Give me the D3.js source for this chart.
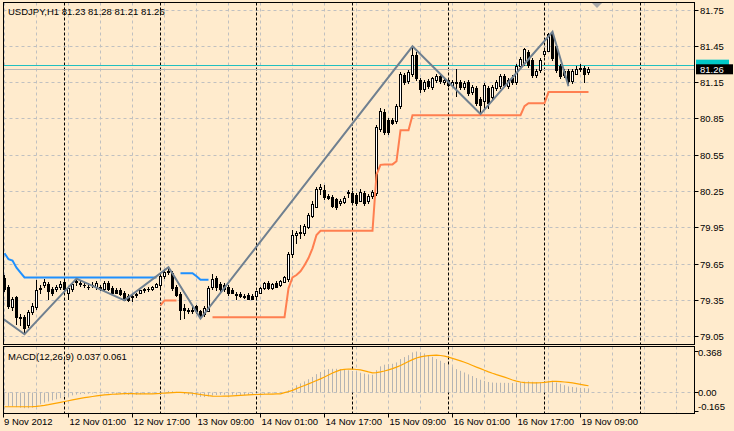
<!DOCTYPE html>
<html><head><meta charset="utf-8">
<script src="https://cdn.jsdelivr.net/npm/d3@7"></script>
<style>
html,body{margin:0;padding:0;background:#ffebcd;}
svg{display:block;}
text{font-family:"Liberation Sans",Arial,sans-serif;font-size:9.5px;fill:#000;}
</style>
</head><body>
<svg id="c" width="734" height="431"></svg>
<script>
// ---------- DATA (hourly bars, 9 Nov 2012 09:00 .. 19 Nov 2012 11:00) ----------
const open = [79.53,79.46,79.29,79.37,79.21,79.21,79.14,79.25,79.29,79.44,79.47,79.48,79.44,79.44,79.46,79.50,79.41,79.44,79.50,79.49,
79.47,79.46,79.47,79.46,79.46,79.44,79.49,79.45,79.43,79.43,79.41,79.38,79.37,79.39,79.41,79.43,79.44,79.44,79.46,79.47,
79.55,79.58,79.57,79.46,79.40,79.28,79.27,79.26,79.30,79.26,79.23,79.26,79.46,79.53,79.48,79.47,79.46,79.43,79.40,79.40,
79.37,79.39,79.38,79.38,79.41,79.45,79.49,79.45,79.49,79.47,79.50,79.52,79.73,79.89,79.90,79.90,79.95,80.04,80.12,80.27,
80.26,80.21,80.20,80.18,80.15,80.16,80.23,80.23,80.22,80.17,80.23,80.17,80.21,80.23,80.76,80.90,80.84,80.84,80.83,80.95,
81.21,81.16,81.22,81.37,81.17,81.09,81.16,81.11,81.17,81.20,81.15,81.17,81.13,81.14,81.15,81.11,81.15,81.07,81.10,81.01,
80.99,81.10,81.03,81.10,81.12,81.20,81.12,81.18,81.15,81.28,81.31,81.40,81.33,81.21,81.25,81.38,81.41,81.55,81.45,81.28,
81.24,81.24,81.16,81.22,81.27,81.27,81.23];
const high = [79.56,79.48,79.38,79.39,79.24,79.23,79.27,79.33,79.52,79.48,79.53,79.50,79.46,79.48,79.51,79.52,79.47,79.50,79.53,79.51,
79.50,79.49,79.50,79.51,79.48,79.51,79.51,79.47,79.45,79.45,79.43,79.40,79.40,79.41,79.44,79.45,79.46,79.47,79.49,79.56,
79.61,79.625,79.59,79.48,79.42,79.32,79.29,79.30,79.31,79.27,79.30,79.47,79.57,79.55,79.50,79.49,79.48,79.45,79.42,79.42,
79.40,79.41,79.40,79.43,79.46,79.50,79.51,79.49,79.51,79.52,79.55,79.75,79.93,79.92,79.97,79.98,80.07,80.17,80.29,80.31,
80.30,80.23,80.22,80.20,80.19,80.21,80.26,80.25,80.24,80.27,80.25,80.23,80.26,80.80,80.94,80.93,80.86,80.86,80.97,81.24,
81.23,81.25,81.45,81.40,81.19,81.17,81.18,81.20,81.22,81.22,81.19,81.19,81.17,81.26,81.17,81.16,81.17,81.13,81.12,81.03,
81.15,81.12,81.13,81.17,81.22,81.22,81.19,81.21,81.30,81.36,81.44,81.42,81.35,81.26,81.35,81.43,81.56,81.575,81.47,81.30,
81.26,81.26,81.26,81.29,81.30,81.29,81.28];
const low = [79.42,79.28,79.26,79.15,79.14,79.07,79.12,79.23,79.27,79.40,79.45,79.35,79.39,79.42,79.44,79.42,79.35,79.42,79.47,79.46,
79.45,79.44,79.45,79.44,79.43,79.42,79.43,79.40,79.40,79.39,79.35,79.34,79.34,79.37,79.40,79.41,79.42,79.43,79.45,79.45,
79.53,79.56,79.43,79.38,79.19,79.20,79.24,79.24,79.24,79.20,79.21,79.25,79.44,79.43,79.42,79.42,79.39,79.40,79.35,79.37,
79.36,79.35,79.35,79.37,79.40,79.44,79.44,79.44,79.45,79.46,79.49,79.50,79.70,79.82,79.86,79.88,79.94,80.03,80.11,80.22,
80.18,80.18,80.11,80.10,80.13,80.15,80.20,80.14,80.13,80.16,80.13,80.15,80.19,80.21,80.74,80.72,80.72,80.80,80.81,80.93,
81.13,81.14,81.20,81.16,81.06,81.07,81.10,81.09,81.15,81.14,81.13,81.11,81.11,81.03,81.09,81.09,81.04,81.05,80.96,80.89,
80.92,80.93,81.01,81.08,81.10,81.11,81.10,81.13,81.13,81.26,81.29,81.27,81.19,81.19,81.23,81.36,81.40,81.33,81.23,81.18,
81.19,81.12,81.14,81.21,81.24,81.15,81.21];
const close = [79.44,79.30,79.36,79.21,79.20,79.12,79.25,79.30,79.43,79.45,79.50,79.42,79.41,79.46,79.48,79.44,79.45,79.48,79.51,79.48,
79.47,79.46,79.47,79.49,79.44,79.49,79.44,79.41,79.41,79.40,79.35,79.35,79.38,79.40,79.43,79.44,79.44,79.46,79.48,79.55,
79.58,79.59,79.45,79.39,79.27,79.27,79.26,79.27,79.26,79.22,79.28,79.45,79.52,79.46,79.44,79.44,79.41,79.41,79.39,79.38,
79.38,79.36,79.36,79.42,79.45,79.49,79.45,79.48,79.46,79.51,79.54,79.73,79.89,79.90,79.91,79.96,80.05,80.14,80.27,80.28,
80.20,80.19,80.13,80.12,80.17,80.19,80.24,80.16,80.15,80.24,80.15,80.21,80.24,80.78,80.91,80.74,80.74,80.81,80.95,81.22,
81.15,81.23,81.37,81.18,81.09,81.15,81.12,81.18,81.20,81.16,81.17,81.13,81.15,81.15,81.11,81.14,81.06,81.11,80.98,80.96,
81.13,80.98,81.11,81.15,81.20,81.13,81.17,81.15,81.28,81.34,81.42,81.29,81.21,81.24,81.33,81.41,81.55,81.35,81.25,81.20,
81.21,81.16,81.24,81.26,81.26,81.22,81.26];

// blue resistance line (null = not drawn)
const blueLine = [79.74,79.69,79.68,79.62,79.58,79.54,79.54,79.54,79.54,79.54,79.54,79.54,79.54,79.54,79.54,79.54,79.54,79.54,79.54,79.54,
79.54,79.54,79.54,79.54,79.54,79.54,79.54,79.54,79.54,79.54,79.54,79.54,79.54,79.54,79.54,79.54,79.54,79.54,79.54,null,
null,null,null,null,79.575,79.575,79.575,79.575,79.55,79.52,79.52,79.52,null,null,null,null,null,null,null,null,
null,null,null,null,null,null,null,null,null,null,null,null,null,null,null,null,null,null,null,null,
null,null,null,null,null,null,null,null,null,null,null,null,null,null,null,null,null,null,null,null,
null,null,null,null,null,null,null,null,null,null,null,null,null,null,null,null,null,null,null,null,
null,null,null,null,null,null,null,null,null,null,null,null,null,null,null,null,null,null,null,null,
null,null,null,null,null,null,null];
// coral support / trailing line
const coralLine = [null,null,null,null,null,null,null,null,null,null,null,null,null,null,null,null,null,null,null,null,
null,null,null,null,null,null,null,null,null,null,null,null,null,null,null,null,null,null,null,79.31,
79.35,79.35,79.35,79.35,null,null,null,null,null,null,null,null,79.21,79.21,79.21,79.21,79.21,79.21,79.21,79.21,
79.21,79.21,79.21,79.21,79.21,79.21,79.21,79.21,79.21,79.21,79.21,79.45,79.54,79.56,79.59,79.64,79.70,79.78,79.89,79.926,
79.926,79.926,79.926,79.926,79.926,79.926,79.926,79.926,79.926,79.926,79.926,79.926,79.926,80.39,80.47,80.474,80.474,80.474,80.50,80.756,
80.756,80.756,80.88,80.88,80.88,80.88,80.88,80.88,80.88,80.88,80.88,80.88,80.88,80.88,80.88,80.88,80.88,80.88,80.88,80.88,
80.88,80.88,80.88,80.88,80.88,80.88,80.88,80.88,80.88,80.88,80.955,80.98,80.98,80.98,80.98,80.98,81.072,81.072,81.072,81.072,
81.072,81.072,81.072,81.072,81.072,81.072,81.072];
// zigzag pivots
const zigzagBars   = [-10, 5, 18, 30, 41, 49, 102, 119, 137, 141];
const zigzagPrices = [79.43, 79.07, 79.53, 79.35, 79.625, 79.20, 81.45, 80.89, 81.57, 81.12];

// MACD(12,26,9)
const macdMain = [-0.115,-0.12,-0.125,-0.13,-0.135,-0.14,-0.14,-0.135,-0.12,-0.105,-0.09,-0.08,-0.07,-0.06,-0.05,-0.04,-0.033,-0.025,-0.018,-0.014,
-0.012,-0.01,-0.008,-0.007,-0.007,-0.006,-0.007,-0.009,-0.011,-0.013,-0.017,-0.02,-0.02,-0.018,-0.015,-0.012,-0.009,-0.006,-0.002,0.004,
0.01,0.014,0.012,0.006,-0.004,-0.014,-0.022,-0.028,-0.033,-0.038,-0.04,-0.034,-0.026,-0.022,-0.02,-0.019,-0.019,-0.019,-0.02,-0.021,
-0.021,-0.021,-0.02,-0.018,-0.015,-0.011,-0.009,-0.006,-0.004,-0.001,0.003,0.02,0.045,0.065,0.082,0.1,0.12,0.14,0.165,0.185,
0.205,0.21,0.213,0.213,0.21,0.205,0.2,0.193,0.185,0.178,0.17,0.163,0.16,0.2,0.235,0.25,0.255,0.258,0.27,0.3,
0.318,0.335,0.36,0.368,0.36,0.35,0.335,0.32,0.30,0.285,0.265,0.245,0.228,0.21,0.195,0.18,0.163,0.148,0.13,0.115,
0.105,0.095,0.09,0.088,0.088,0.087,0.087,0.085,0.088,0.092,0.098,0.1,0.097,0.093,0.093,0.097,0.107,0.105,0.09,0.078,
0.066,0.055,0.05,0.046,0.043,0.04,0.037];
const macdSignal = [-0.127,-0.127,-0.127,-0.127,-0.127,-0.127,-0.127,-0.126,-0.123,-0.119,-0.114,-0.108,-0.101,-0.094,-0.087,-0.08,-0.073,-0.066,-0.059,-0.052,
-0.046,-0.04,-0.035,-0.03,-0.025,-0.021,-0.018,-0.015,-0.013,-0.011,-0.01,-0.01,-0.01,-0.011,-0.012,-0.012,-0.012,-0.011,-0.009,-0.007,
-0.004,-0.002,0.0,0.001,0.001,0.0,-0.002,-0.006,-0.011,-0.017,-0.023,-0.028,-0.031,-0.033,-0.033,-0.032,-0.031,-0.029,-0.027,-0.025,
-0.023,-0.021,-0.019,-0.017,-0.016,-0.015,-0.014,-0.013,-0.012,-0.011,0.0,0.008,0.02,0.035,0.05,0.064,0.078,0.093,0.108,0.123,
0.14,0.158,0.176,0.19,0.203,0.208,0.211,0.211,0.207,0.203,0.194,0.185,0.177,0.178,0.185,0.193,0.203,0.215,0.228,0.242,
0.26,0.278,0.295,0.31,0.32,0.327,0.331,0.334,0.335,0.332,0.326,0.317,0.306,0.295,0.284,0.272,0.258,0.243,0.228,0.215,
0.2,0.186,0.173,0.161,0.15,0.138,0.126,0.113,0.103,0.095,0.09,0.088,0.087,0.087,0.088,0.091,0.096,0.1,0.1,0.098,
0.095,0.092,0.087,0.08,0.073,0.067,0.061];

const priceTicks = [81.75,81.45,81.15,80.85,80.55,80.25,79.95,79.65,79.35,79.05];
const timeTickBars = [0,16,32,48,64,80,96,112,128,144];
const timeTickLabels = ["9 Nov 2012","12 Nov 01:00","12 Nov 17:00","13 Nov 09:00","14 Nov 01:00","14 Nov 17:00","15 Nov 09:00","16 Nov 01:00","16 Nov 17:00","19 Nov 09:00"];
const daySeparatorBars = [15,39,63,87,111,135,159];
const macdTicks = [0.368, 0.00, -0.165];
const macdTickLabels = ["0.368","0.00","-0.165"];
const bidPrice = 81.26, askPrice = 81.29;
const titleMain = "USDJPY,H1  81.23 81.28 81.21 81.26";
const titleMacd = "MACD(12,26,9) 0.037 0.061";

// ---------- LAYOUT ----------
const L = 3.5, R = 694.5, T1 = 2.5, B1 = 344.5, T2 = 346.5, B2 = 413.5;
const svg = d3.select("#c");
const snap = v => Math.round(v - 0.5) + 0.5;

const x = d3.scaleLinear().domain([0, 146]).range([4.5, 588.5]);
const y = d3.scaleLinear().domain([79.05, 81.75]).range([336.7, 10]);
const ym = d3.scaleLinear().domain([-0.165, 0.368]).range([411, 351.5]);

const defs = svg.append("defs");
defs.append("clipPath").attr("id","cpMain").append("rect").attr("x",L).attr("y",T1).attr("width",R-L).attr("height",B1-T1);
defs.append("clipPath").attr("id","cpMacd").append("rect").attr("x",L).attr("y",T2).attr("width",R-L).attr("height",B2-T2);

svg.append("rect").attr("width",734).attr("height",431).attr("fill","#ffebcd");

const gMain = svg.append("g").attr("clip-path","url(#cpMain)");
const gMacd = svg.append("g").attr("clip-path","url(#cpMacd)");

// horizontal grid
priceTicks.forEach(p => {
  const yy = snap(y(p));
  gMain.append("line").attr("x1",L).attr("x2",R).attr("y1",yy).attr("y2",yy)
    .attr("stroke","#c0c0c0").attr("stroke-dasharray","3,3");
});
gMacd.append("line").attr("x1",L).attr("x2",R).attr("y1",snap(ym(0))).attr("y2",snap(ym(0)))
  .attr("stroke","#c0c0c0").attr("stroke-dasharray","3,3");

// vertical grid every 8 bars
d3.range(0, 170, 8).forEach(k => {
  const xx = snap(x(k));
  [[gMain,T1,B1],[gMacd,T2,B2]].forEach(([g,t,b]) =>
    g.append("line").attr("x1",xx).attr("x2",xx).attr("y1",t).attr("y2",b)
      .attr("stroke","#c0c0c0").attr("stroke-dasharray","3,3"));
});
// day separators
daySeparatorBars.forEach(k => {
  const xx = snap(x(k));
  [[gMain,T1,B1],[gMacd,T2,B2]].forEach(([g,t,b]) =>
    g.append("line").attr("x1",xx).attr("x2",xx).attr("y1",t).attr("y2",b)
      .attr("stroke","#000").attr("stroke-dasharray","3,2"));
});

// bid / ask lines
gMain.append("line").attr("x1",L).attr("x2",R).attr("y1",snap(y(askPrice))).attr("y2",snap(y(askPrice)))
  .attr("stroke","#20c0c0");
gMain.append("line").attr("x1",L).attr("x2",R).attr("y1",snap(y(bidPrice))).attr("y2",snap(y(bidPrice)))
  .attr("stroke","#b8b8b8");

// candles
const bars = d3.range(open.length);
const cg = gMain.append("g");
bars.forEach(k => {
  const cx = x(k);
  cg.append("line").attr("x1",cx).attr("x2",cx).attr("y1",Math.round(y(high[k]))).attr("y2",Math.round(y(low[k])))
    .attr("stroke","#000");
  const top = snap(Math.min(y(open[k]), y(close[k])));
  const bot = snap(Math.max(y(open[k]), y(close[k])));
  if (bot - top < 1) {
    cg.append("line").attr("x1",cx-1.5).attr("x2",cx+1.5).attr("y1",top).attr("y2",top).attr("stroke","#000");
  } else {
    cg.append("rect").attr("x",cx-1).attr("y",top).attr("width",2).attr("height",bot-top)
      .attr("fill", close[k] >= open[k] ? "#fff" : "#000").attr("stroke","#000");
  }
});

// overlays
const lineGen = d3.line().defined(d => d.v != null).x(d => x(d.k)).y(d => y(d.v));
gMain.append("path").datum(bars.map(k => ({k, v: coralLine[k]})))
  .attr("d", lineGen).attr("fill","none").attr("stroke","#ff7f50").attr("stroke-width",2);
gMain.append("path").datum(bars.map(k => ({k, v: blueLine[k]})))
  .attr("d", lineGen).attr("fill","none").attr("stroke","#1e90ff").attr("stroke-width",2);
gMain.append("path").datum(zigzagBars.map((k,i) => ({k, v: zigzagPrices[i]})))
  .attr("d", lineGen).attr("fill","none").attr("stroke","#708090").attr("stroke-width",2);

// MACD histogram + signal
bars.forEach(k => {
  gMacd.append("line").attr("x1",x(k)).attr("x2",x(k))
    .attr("y1",ym(0)).attr("y2",ym(macdMain[k])).attr("stroke","#b4b4b4");
});
gMacd.append("path").datum(bars.map(k => ({k, v: macdSignal[k]})))
  .attr("d", d3.line().x(d => x(d.k)).y(d => ym(d.v)))
  .attr("fill","none").attr("stroke","#ffa500").attr("stroke-width",1.2);

// panel borders
svg.append("rect").attr("x",L).attr("y",T1).attr("width",R-L).attr("height",B1-T1).attr("fill","none").attr("stroke","#000");
svg.append("rect").attr("x",L).attr("y",T2).attr("width",R-L).attr("height",B2-T2).attr("fill","none").attr("stroke","#000");

// shift marker
svg.append("path").attr("d","M592,3 L602,3 L597,8 Z").attr("fill","#a8a8a8");

// price axis
priceTicks.forEach(p => {
  const yy = snap(y(p));
  svg.append("line").attr("x1",R).attr("x2",R+4).attr("y1",yy).attr("y2",yy).attr("stroke","#000");
  svg.append("text").attr("x",700).attr("y",yy+3.5).text(p.toFixed(2));
});
// ask / bid labels (ask label is covered by the bid label, only its cyan edge shows)
const ya = y(askPrice), yb = y(bidPrice);
svg.append("rect").attr("x",696).attr("y",ya-6).attr("width",33).attr("height",11).attr("fill","#00c8c8");
svg.append("rect").attr("x",696).attr("y",yb-5).attr("width",37).attr("height",10).attr("fill","#000");
svg.append("text").attr("x",700).attr("y",yb+3.5).style("fill","#fff").text(bidPrice.toFixed(2));

// MACD axis
macdTicks.forEach((v,i) => {
  const yy = i === 0 ? 352.5 : (i === 2 ? 406.5 : snap(ym(v)));
  svg.append("line").attr("x1",R).attr("x2",R+4).attr("y1",snap(ym(v))).attr("y2",snap(ym(v))).attr("stroke","#000");
  svg.append("text").attr("x",698).attr("y",yy+3.5).text(macdTickLabels[i]);
});

// time axis
timeTickBars.forEach((k,i) => {
  const xx = i === 0 ? L : snap(x(k));
  svg.append("line").attr("x1",xx).attr("x2",xx).attr("y1",B2).attr("y2",B2+4).attr("stroke","#000");
  svg.append("text").attr("x", i === 0 ? 4 : xx + 1).attr("y",425).text(timeTickLabels[i]);
});

// titles
svg.append("text").attr("x",8).attr("y",14.5).text(titleMain);
svg.append("text").attr("x",8).attr("y",359.5).text(titleMacd);
</script>
</body></html>
